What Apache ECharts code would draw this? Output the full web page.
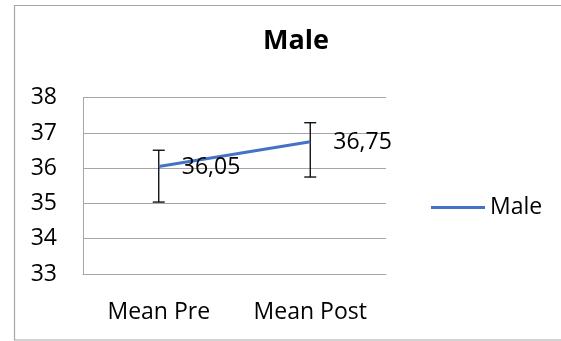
<!DOCTYPE html>
<html>
<head>
<meta charset="utf-8">
<style>html,body{margin:0;padding:0;background:#fff;}#c{width:561px;height:341px;}</style>
<script src="https://cdn.jsdelivr.net/npm/echarts@6/dist/echarts.min.js"></script>
</head>
<body>
<div id="c"></div>
<script>
var categories = ['Mean Pre', 'Mean Post'];
var maleValues = [36.05, 36.75];
var errLow = [35.04, 35.75];
var errHigh = [36.51, 37.29];
var yTicks = [33, 34, 35, 36, 37, 38];

var FONT = 'Open Sans';
var chart = echarts.init(document.getElementById('c'), null, {renderer: 'canvas'});
var errData = categories.map(function (c, i) { return [i, errLow[i], errHigh[i]]; });

chart.setOption({
  animation: false,
  backgroundColor: '#fff',
  textStyle: {fontFamily: FONT},
  graphic: [{
    type: 'rect', silent: true, z: -1,
    shape: {x: 14.5, y: 5.5, width: 600, height: 334.5},
    style: {fill: 'none', stroke: '#a6a6a6', lineWidth: 1.2}
  }],
  title: {
    text: 'Male', left: 258, top: 23,
    textStyle: {fontFamily: FONT, fontSize: 27, fontWeight: 'bold', color: '#000'}
  },
  legend: {
    left: 426, top: 191,
    itemWidth: 54, itemHeight: 3, itemGap: 5,
    icon: 'rect',
    data: [{name: 'Male', itemStyle: {color: '#4472C4', opacity: 1}}],
    textStyle: {fontFamily: FONT, fontSize: 23, color: '#000'}
  },
  grid: {left: 83, right: 175, top: 97.7, bottom: 67, containLabel: false},
  xAxis: {
    type: 'category', data: categories, boundaryGap: true,
    axisLine: {lineStyle: {color: '#a6a6a6', width: 1}},
    axisTick: {show: false},
    axisLabel: {fontFamily: FONT, fontSize: 23, color: '#000', margin: 27}
  },
  yAxis: {
    type: 'value', min: yTicks[0], max: yTicks[yTicks.length - 1], interval: 1,
    axisLine: {show: true, lineStyle: {color: '#a6a6a6', width: 1}},
    axisTick: {show: false},
    splitLine: {lineStyle: {color: '#a6a6a6', width: 1}},
    axisLabel: {fontFamily: FONT, fontSize: 23, color: '#000', margin: 26}
  },
  series: [{
    name: 'Male', type: 'line', data: maleValues,
    symbol: 'circle', symbolSize: 0.1, showSymbol: true,
    itemStyle: {color: '#4472C4'},
    lineStyle: {color: '#4472C4', width: 3},
    label: {
      show: true, position: 'right', distance: 23,
      fontFamily: FONT, fontSize: 23, color: '#000', offset: [0, 1],
      formatter: function (p) { return p.value.toFixed(2).replace('.', ','); }
    },
    z: 3
  }, {
    name: 'err', type: 'custom', data: errData, z: 2,
    renderItem: function (params, api) {
      var x = api.value(0);
      var lo = api.coord([x, api.value(1)]);
      var hi = api.coord([x, api.value(2)]);
      var hw = 6;
      var st = {stroke: '#000', lineWidth: 1.3};
      return {type: 'group', children: [
        {type: 'line', shape: {x1: lo[0], y1: lo[1], x2: hi[0], y2: hi[1]}, style: st},
        {type: 'line', shape: {x1: lo[0] - hw, y1: lo[1], x2: lo[0] + hw, y2: lo[1]}, style: st},
        {type: 'line', shape: {x1: hi[0] - hw, y1: hi[1], x2: hi[0] + hw, y2: hi[1]}, style: st}
      ]};
    }
  }]
});
</script>
</body>
</html>
